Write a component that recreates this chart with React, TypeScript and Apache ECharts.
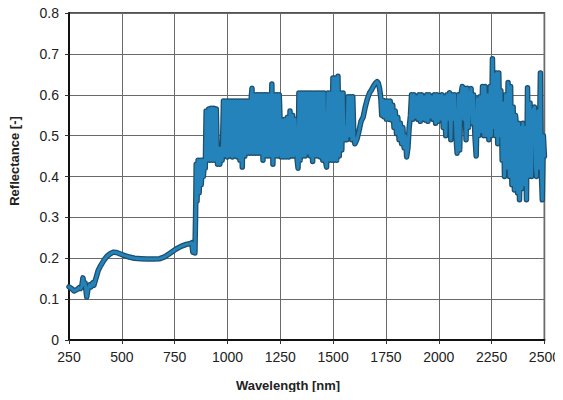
import React, { useEffect, useRef } from "react";
import * as echarts from "echarts";

// Reflectance spectrum, [wavelength nm, reflectance]
const visibleRange: [number, number][] = [
  [250, 0.13], [258, 0.127], [266, 0.124], [274, 0.12], [282, 0.122], [290, 0.124], [298, 0.128],
  [304, 0.126], [310, 0.13], [316, 0.152], [320, 0.135], [326, 0.14], [334, 0.105], [340, 0.125],
  [348, 0.135], [354, 0.13], [362, 0.14], [368, 0.134], [374, 0.145], [381, 0.157], [388, 0.17],
  [400, 0.182], [415, 0.195], [430, 0.205], [445, 0.211], [460, 0.215], [475, 0.214], [490, 0.211],
  [510, 0.207], [535, 0.203], [560, 0.2], [590, 0.199], [620, 0.198], [650, 0.198], [680, 0.199],
  [705, 0.204], [730, 0.213], [755, 0.222], [780, 0.229], [805, 0.234], [825, 0.236], [831, 0.238],
  [836, 0.215], [841, 0.236], [846, 0.213],
];

const nirRange: [number, number][] = [
  [849, 0.3], [852, 0.43], [856, 0.34], [861, 0.44], [866, 0.36], [871, 0.44], [876, 0.38],
  [881, 0.44], [886, 0.4], [891, 0.44], [895, 0.42], [899, 0.56], [905, 0.44], [911, 0.565],
  [917, 0.44], [923, 0.567], [929, 0.44], [935, 0.567], [941, 0.44], [947, 0.565], [953, 0.43],
  [958, 0.47], [964, 0.43], [969, 0.47], [975, 0.44], [981, 0.585], [987, 0.45], [993, 0.585],
  [999, 0.448], [1005, 0.585], [1011, 0.45], [1017, 0.585], [1023, 0.448], [1029, 0.585],
  [1035, 0.45], [1041, 0.585], [1047, 0.448], [1053, 0.585], [1059, 0.44], [1065, 0.585],
  [1070, 0.423], [1076, 0.585], [1082, 0.45], [1088, 0.585], [1094, 0.457], [1100, 0.585],
  [1106, 0.457], [1112, 0.59], [1116, 0.616], [1120, 0.457], [1126, 0.6], [1132, 0.457],
  [1138, 0.6], [1144, 0.457], [1150, 0.6], [1156, 0.457], [1162, 0.6], [1168, 0.44], [1174, 0.6],
  [1180, 0.45], [1186, 0.6], [1192, 0.45], [1198, 0.6], [1204, 0.45], [1210, 0.626], [1215, 0.43],
  [1221, 0.6], [1227, 0.45], [1233, 0.6], [1239, 0.45], [1245, 0.6], [1249, 0.538], [1254, 0.448],
  [1260, 0.538], [1266, 0.448], [1272, 0.54], [1278, 0.448], [1284, 0.545], [1290, 0.448],
  [1296, 0.56], [1302, 0.45], [1308, 0.55], [1314, 0.45], [1320, 0.54], [1326, 0.47], [1330, 0.44],
  [1334, 0.42], [1338, 0.604], [1344, 0.44], [1350, 0.604], [1356, 0.45], [1362, 0.604],
  [1368, 0.45], [1374, 0.604], [1380, 0.457], [1386, 0.604], [1392, 0.45], [1398, 0.604],
  [1403, 0.437], [1409, 0.604], [1415, 0.45], [1421, 0.604], [1427, 0.45], [1433, 0.604],
  [1439, 0.448], [1445, 0.604], [1451, 0.44], [1457, 0.604], [1463, 0.44], [1469, 0.423],
  [1475, 0.604], [1481, 0.44], [1487, 0.604], [1493, 0.44], [1499, 0.641], [1505, 0.44],
  [1511, 0.641], [1517, 0.44], [1523, 0.645], [1529, 0.45], [1535, 0.604], [1541, 0.465],
  [1547, 0.604], [1553, 0.489], [1559, 0.52], [1565, 0.49], [1570, 0.595], [1576, 0.5],
  [1582, 0.595], [1588, 0.49], [1593, 0.595], [1598, 0.5], [1603, 0.48], [1612, 0.49],
  [1622, 0.51], [1632, 0.535], [1642, 0.545], [1652, 0.57], [1662, 0.59], [1672, 0.604],
  [1682, 0.612], [1692, 0.622], [1700, 0.628], [1708, 0.632], [1714, 0.628], [1720, 0.615],
];

const swirRange: [number, number][] = [
  [1726, 0.59], [1730, 0.55], [1734, 0.587], [1740, 0.546], [1746, 0.585], [1752, 0.54],
  [1758, 0.585], [1764, 0.54], [1770, 0.585], [1776, 0.538], [1782, 0.575], [1788, 0.52],
  [1794, 0.56], [1800, 0.505], [1806, 0.545], [1812, 0.49], [1818, 0.531], [1824, 0.48],
  [1830, 0.52], [1836, 0.47], [1842, 0.5], [1848, 0.448], [1854, 0.47], [1860, 0.52],
  [1866, 0.55], [1871, 0.6], [1877, 0.54], [1883, 0.6], [1889, 0.545], [1895, 0.595],
  [1901, 0.54], [1907, 0.6], [1913, 0.535], [1919, 0.6], [1925, 0.54], [1931, 0.595],
  [1937, 0.538], [1943, 0.6], [1949, 0.535], [1955, 0.6], [1961, 0.545], [1967, 0.595],
  [1973, 0.54], [1979, 0.6], [1985, 0.53], [1991, 0.6], [1997, 0.535], [2003, 0.598],
  [2009, 0.54], [2015, 0.6], [2021, 0.52], [2027, 0.595], [2033, 0.5], [2039, 0.6], [2045, 0.54],
  [2051, 0.605], [2057, 0.49], [2063, 0.6], [2069, 0.54], [2075, 0.6], [2081, 0.5], [2087, 0.457],
  [2093, 0.6], [2099, 0.465], [2105, 0.6], [2111, 0.62], [2117, 0.54], [2123, 0.616], [2129, 0.49],
  [2135, 0.616], [2141, 0.52], [2147, 0.6], [2153, 0.615], [2159, 0.53], [2165, 0.6], [2171, 0.5],
  [2177, 0.45], [2183, 0.59], [2189, 0.5], [2195, 0.595], [2201, 0.51], [2207, 0.62], [2213, 0.5],
  [2219, 0.62], [2225, 0.5], [2231, 0.6], [2237, 0.49], [2243, 0.62], [2249, 0.5], [2254, 0.688],
  [2259, 0.52], [2264, 0.65], [2269, 0.5], [2274, 0.653], [2279, 0.48], [2284, 0.653], [2289, 0.5],
  [2294, 0.61], [2300, 0.44], [2305, 0.58], [2311, 0.4], [2316, 0.6], [2322, 0.42], [2328, 0.63],
  [2334, 0.4], [2340, 0.62], [2346, 0.38], [2352, 0.57], [2358, 0.367], [2363, 0.55], [2368, 0.521],
  [2373, 0.36], [2378, 0.53], [2382, 0.343], [2388, 0.52], [2393, 0.37], [2398, 0.53], [2404, 0.38],
  [2410, 0.52], [2415, 0.343], [2420, 0.617], [2426, 0.4], [2432, 0.58], [2439, 0.4], [2445, 0.56],
  [2453, 0.57], [2458, 0.42], [2462, 0.4], [2468, 0.56], [2474, 0.42], [2481, 0.653], [2486, 0.4],
  [2490, 0.343], [2495, 0.5], [2500, 0.45],
];

const xTicks = [250, 500, 750, 1000, 1250, 1500, 1750, 2000, 2250, 2500];
const yTicks = [0, 0.1, 0.2, 0.3, 0.4, 0.5, 0.6, 0.7, 0.8];

const FONT = "'Liberation Sans', Arial, sans-serif";

export default function App() {
  const ref = useRef<HTMLDivElement>(null);
  useEffect(() => {
    if (!ref.current) return;
    const chart = echarts.init(ref.current, null, { renderer: "svg" });
    const spectrum = [...visibleRange, ...nirRange, ...swirRange];
    chart.setOption({
      animation: false,
      backgroundColor: "#ffffff",
      grid: {
        left: 69,
        right: 18,
        top: 13,
        bottom: 60,
        show: true,
        borderColor: "#1a1a1a",
        borderWidth: 1.5,
        backgroundColor: "#ffffff",
      },
      xAxis: {
        type: "value",
        min: xTicks[0],
        max: xTicks[xTicks.length - 1],
        interval: 250,
        axisLine: { show: true, lineStyle: { color: "#111", width: 2 } },
        axisTick: { show: true, inside: false, length: 4, lineStyle: { color: "#333" } },
        axisLabel: {
          fontFamily: FONT,
          fontSize: 14,
          color: "#222",
          margin: 10,
          formatter: (v: number) => String(v),
        },
        splitLine: { show: true, lineStyle: { color: "#6a6a6a", width: 1 } },
      },
      yAxis: {
        type: "value",
        min: yTicks[0],
        max: yTicks[yTicks.length - 1],
        interval: 0.1,
        axisLine: { show: true, lineStyle: { color: "#111", width: 2 } },
        axisTick: { show: true, inside: false, length: 4, lineStyle: { color: "#333" } },
        axisLabel: {
          fontFamily: FONT,
          fontSize: 14,
          color: "#222",
          margin: 10,
          formatter: (v: number) => (v === 0 ? "0" : v.toFixed(1)),
        },
        splitLine: { show: true, lineStyle: { color: "#6a6a6a", width: 1 } },
      },
      graphic: [
        {
          type: "text",
          x: 288,
          y: 385,
          style: {
            text: "Wavelength [nm]",
            font: `bold 13px ${FONT}`,
            fill: "#222",
            align: "center",
            verticalAlign: "middle",
          },
        },
        {
          type: "text",
          x: 14,
          y: 161,
          rotation: Math.PI / 2,
          style: {
            text: "Reflectance [-]",
            font: `bold 13px ${FONT}`,
            fill: "#222",
            align: "center",
            verticalAlign: "middle",
          },
        },
      ],
      series: [
        {
          type: "line",
          data: spectrum,
          showSymbol: false,
          lineStyle: { color: "#1d4f6c", width: 5.5, join: "round", cap: "round" },
          z: 2,
        },
        {
          type: "line",
          data: spectrum,
          showSymbol: false,
          lineStyle: { color: "#2383ba", width: 3, join: "round", cap: "round" },
          z: 3,
        },
      ],
    });
    return () => chart.dispose();
  }, []);
  return <div ref={ref} style={{ width: 563, height: 400, margin: -8 }} />;
}
